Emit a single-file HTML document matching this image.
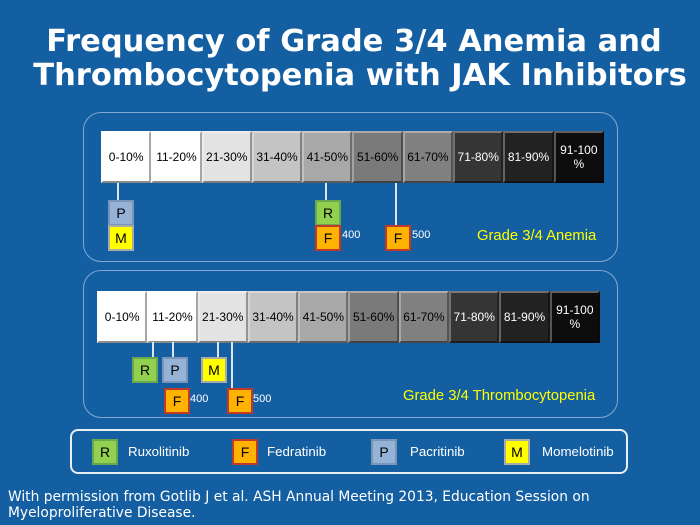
<!DOCTYPE html>
<html><head><meta charset="utf-8"><style>
*{margin:0;padding:0;box-sizing:border-box}
body{width:700px;height:525px;background:#145fa2;position:relative;overflow:hidden;font-family:"Liberation Sans",sans-serif}
.a{position:absolute}
.t{position:absolute;left:0;width:700px;text-align:center;color:#fff;font-family:"DejaVu Sans",sans-serif;font-weight:bold;font-size:30.5px;line-height:34px;white-space:nowrap}
.panel{position:absolute;border:1.5px solid #7fa9d4;border-radius:18px}
.row{position:absolute;display:flex;height:52px}
.c{width:50.3px;height:52px;border:2px solid;border-color:rgba(255,255,255,.35) rgba(0,0,0,.35) rgba(0,0,0,.45) rgba(255,255,255,.3);display:flex;align-items:center;justify-content:center;text-align:center;font-size:12px;line-height:14px}
.m{position:absolute;width:26px;height:26px;border:2px solid;display:flex;align-items:center;justify-content:center;font-size:14px;color:#000}
.R{background:#92d050;border-color:#6aa84f}
.P{background:#95b3d7;border-color:#7a95b8}
.M{background:#ffff00;border-color:#aaa}
.F{background:#ffb300;border-color:#c0392b}
.ln{position:absolute;width:1.5px;background:#dde6f0}
.s{position:absolute;color:#fff;font-size:11px}
.y{position:absolute;color:#ffff00;font-size:14.8px}
.lg{position:absolute;color:#fff;font-size:13.3px}
</style></head><body>
<div class="t" style="top:25px;left:4px">Frequency of Grade 3/4 Anemia and</div>
<div class="t" style="top:59px;left:10px">Thrombocytopenia with JAK Inhibitors</div>

<div class="panel" style="left:83px;top:112px;width:535px;height:150px"></div>
<div class="row" style="left:101px;top:131px">
<div class="c" style="background:#fff">0-10%</div><div class="c" style="background:#fff">11-20%</div><div class="c" style="background:#e3e3e3">21-30%</div><div class="c" style="background:#c4c4c4">31-40%</div><div class="c" style="background:#a8a8a8">41-50%</div><div class="c" style="background:#7a7a7a">51-60%</div><div class="c" style="background:#808080">61-70%</div><div class="c" style="background:#353535;color:#fff">71-80%</div><div class="c" style="background:#222;color:#fff">81-90%</div><div class="c" style="background:#0d0d0d;color:#fff">91-100<br>%</div>
</div>
<div class="ln" style="left:117px;top:183px;height:17px"></div>
<div class="ln" style="left:325px;top:183px;height:17px"></div>
<div class="ln" style="left:395px;top:183px;height:43px"></div>
<div class="m P" style="left:108px;top:200px">P</div>
<div class="m M" style="left:108px;top:225px">M</div>
<div class="m R" style="left:315px;top:200px">R</div>
<div class="m F" style="left:315px;top:225px">F</div>
<div class="s" style="left:342px;top:229px">400</div>
<div class="m F" style="left:385px;top:225px">F</div>
<div class="s" style="left:412px;top:229px">500</div>
<div class="y" style="left:477px;top:228px">Grade 3/4 Anemia</div>

<div class="panel" style="left:83px;top:270px;width:535px;height:148px"></div>
<div class="row" style="left:97px;top:291px">
<div class="c" style="background:#fff">0-10%</div><div class="c" style="background:#fff">11-20%</div><div class="c" style="background:#e3e3e3">21-30%</div><div class="c" style="background:#c4c4c4">31-40%</div><div class="c" style="background:#a8a8a8">41-50%</div><div class="c" style="background:#7a7a7a">51-60%</div><div class="c" style="background:#808080">61-70%</div><div class="c" style="background:#353535;color:#fff">71-80%</div><div class="c" style="background:#222;color:#fff">81-90%</div><div class="c" style="background:#0d0d0d;color:#fff">91-100<br>%</div>
</div>
<div class="ln" style="left:152px;top:342px;height:15px"></div>
<div class="ln" style="left:172px;top:342px;height:15px"></div>
<div class="ln" style="left:217px;top:342px;height:15px"></div>
<div class="ln" style="left:231px;top:342px;height:46px"></div>
<div class="m R" style="left:132px;top:357px">R</div>
<div class="m P" style="left:162px;top:357px">P</div>
<div class="m M" style="left:201px;top:357px">M</div>
<div class="m F" style="left:164px;top:388px">F</div>
<div class="s" style="left:190px;top:393px">400</div>
<div class="m F" style="left:227px;top:388px">F</div>
<div class="s" style="left:253px;top:393px">500</div>
<div class="y" style="left:403px;top:388px">Grade 3/4 Thrombocytopenia</div>

<div class="panel" style="left:70px;top:429px;width:558px;height:45px;border:2px solid #e8eef5;border-radius:8px"></div>
<div class="m R" style="left:92px;top:439px">R</div><div class="lg" style="left:128px;top:444px">Ruxolitinib</div>
<div class="m F" style="left:232px;top:439px">F</div><div class="lg" style="left:267px;top:444px">Fedratinib</div>
<div class="m P" style="left:371px;top:439px">P</div><div class="lg" style="left:410px;top:444px">Pacritinib</div>
<div class="m M" style="left:504px;top:439px">M</div><div class="lg" style="left:542px;top:444px">Momelotinib</div>

<div class="a" style="left:8px;top:489px;color:#fff;font-size:13.8px;line-height:16px;font-family:'DejaVu Sans',sans-serif;white-space:nowrap">With permission from Gotlib J et al. ASH Annual Meeting 2013, Education Session on<br>Myeloproliferative Disease.</div>
</body></html>
